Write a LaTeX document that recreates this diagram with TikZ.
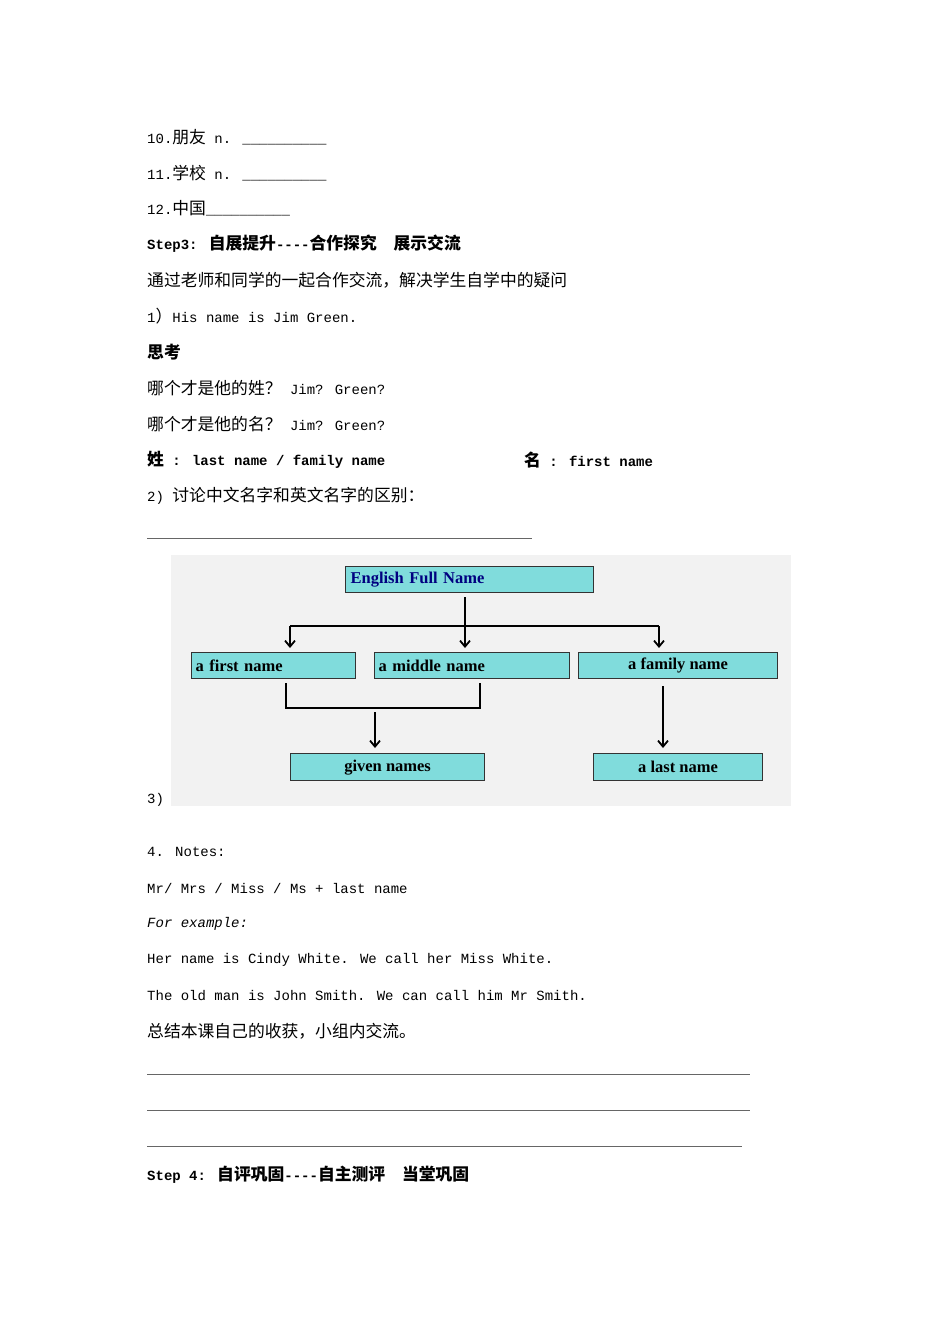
\documentclass[tikz,border=0pt]{standalone}
\usetikzlibrary{arrows.meta}
\usepackage{fontspec}
\setmainfont{Liberation Mono}
\newfontfamily\cjk{Noto Sans CJK SC}[Scale=1.2]
\newfontfamily\boxfont{Liberation Serif}
\newcommand{\C}[1]{{\cjk #1}}
\definecolor{boxcyan}{HTML}{80DCDC}
\begin{document}
\begin{tikzpicture}[x=1pt,y=-1pt,
  txt/.style={anchor=west,inner sep=0pt,font=\fontsize{14}{15}\selectfont},
  btxt/.style={anchor=west,inner sep=0pt,font=\bfseries\fontsize{14}{15}\selectfont},
  nbox/.style={draw=black!80,line width=1.2pt,fill=boxcyan,minimum height=26pt,inner sep=0pt,font=\boxfont\bfseries\fontsize{16.5}{17}\selectfont},
  arr/.style={line width=1.8pt,-{Straight Barb[length=6pt,width=10pt]}},
  ln/.style={line width=1.8pt},
  rule/.style={draw=black!60,line width=0.5pt}]
\useasboundingbox (0,0) rectangle (950,1344);
\fill[white] (0,0) rectangle (950,1344);
\node[txt] (l1) at (147,137) {10.\C{朋友} n. \_\_\_\_\_\_\_\_\_\_};
\node[txt] (l2) at (147,173) {11.\C{学校} n. \_\_\_\_\_\_\_\_\_\_};
\node[txt] (l3) at (147,208) {12.\C{中国}\_\_\_\_\_\_\_\_\_\_};
\node[btxt] (l4) at (147,244) {Step3: \C{\bfseries 自展提升}-{}-{}-{}-\C{\bfseries 合作探究\quad 展示交流}};
\node[txt] (l5) at (147,280) {\C{通过老师和同学的一起合作交流，解决学生自学中的疑问}};
\node[txt] (l6) at (147,316) {1\C{）}His name is Jim Green.};
\node[txt] (l7) at (147,352) {\C{\bfseries 思考}};
\node[txt] (l8) at (147,388) {\C{哪个才是他的姓？} Jim? Green?};
\node[txt] (l9) at (147,424) {\C{哪个才是他的名？} Jim? Green?};
\node[btxt] (l10) at (147,460) {\C{\bfseries 姓} : last name / family name};
\node[btxt] (l10b) at (524,460) {\C{\bfseries 名} : first name};
\node[txt] (l11) at (147,496) {2) \C{讨论中文名字和英文名字的区别：}};
\draw[rule] (147,538) -- (532,538);
% diagram
\fill[black!5] (171,555) rectangle (791,806);
\node[nbox,minimum width=248pt,text width=238pt,align=left,anchor=north west,text=blue!50!black] (full) at (345,566) {English Full Name};
\node[nbox,minimum width=164pt,text width=156pt,align=left,anchor=north west] (first) at (191,652) {a first name};
\node[nbox,minimum width=195pt,text width=187pt,align=left,anchor=north west] (mid) at (374,652) {a middle name};
\node[nbox,minimum width=199pt,anchor=north west] (fam) at (578,652) {a family name};
\node[nbox,minimum width=194pt,minimum height=27pt,anchor=north west] (given) at (290,753) {given names};
\node[nbox,minimum width=169pt,minimum height=27pt,anchor=north west] (last) at (593,753) {a last name};
\coordinate (hl) at (290,626);
\coordinate (hr) at (659,626);
\draw[arr] (465,597) -- (465,648);
\draw[ln] (hl) -- (hr);
\draw[arr] (hl) -- (290,648);
\draw[arr] (hr) -- (659,648);
\draw[ln] (286,683) -- (286,708) -- (480,708) -- (480,683);
\draw[arr] (375,712) -- (375,748);
\draw[arr] (663,686) -- (663,748);
\node[txt] (l12) at (147,800) {3)};
\node[txt] (n1) at (147,852) {4. Notes:};
\node[txt] (n2) at (147,888) {Mr/ Mrs / Miss / Ms + last name};
\node[txt,font=\itshape\fontsize{14}{15}\selectfont] (n3) at (147,924) {For example:};
\node[txt] (n4) at (147,960) {Her name is Cindy White. We call her Miss White.};
\node[txt] (n5) at (147,996) {The old man is John Smith. We can call him Mr Smith.};
\node[txt] (n6) at (147,1031) {\C{总结本课自己的收获，小组内交流。}};
\draw[rule] (147,1074) -- (750,1074);
\draw[rule] (147,1110) -- (750,1110);
\draw[rule] (147,1146) -- (742,1146);
\node[btxt] (s4) at (147,1175) {Step 4: \C{\bfseries 自评巩固}-{}-{}-{}-\C{\bfseries 自主测评\quad 当堂巩固}};
\end{tikzpicture}
\end{document}
